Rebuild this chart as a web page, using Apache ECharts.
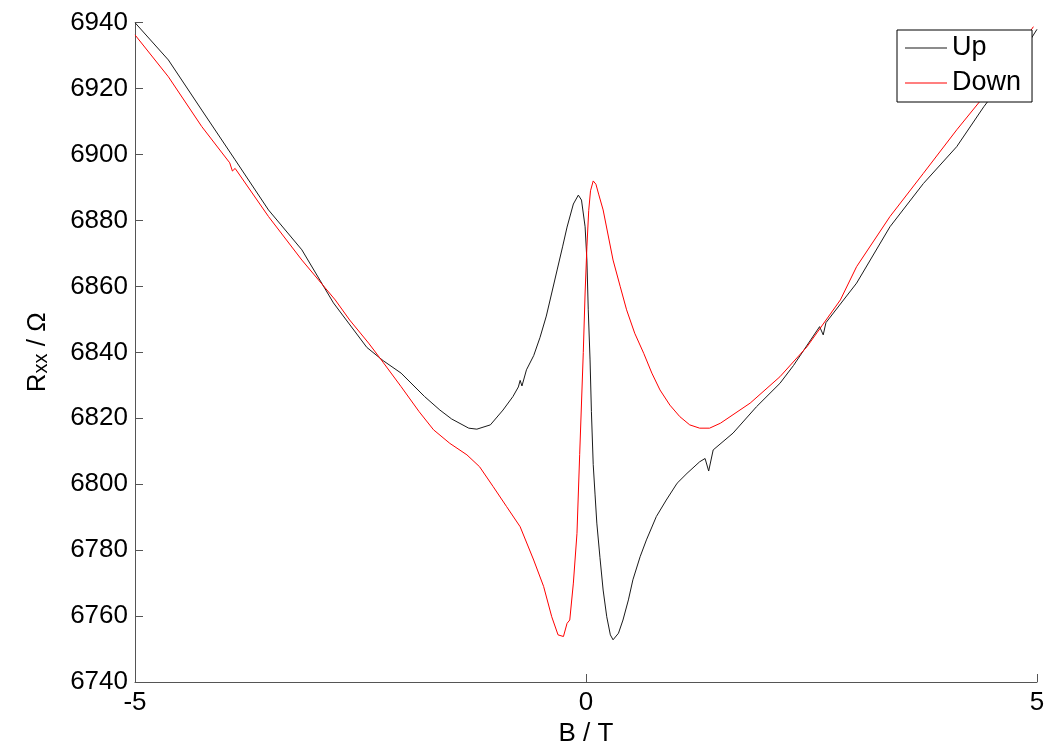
<!DOCTYPE html>
<html>
<head>
<meta charset="utf-8">
<script src="https://cdn.jsdelivr.net/npm/echarts@6/dist/echarts.min.js"></script>
<style>
html,body{margin:0;padding:0;background:#fff;}
#chart{width:1045px;height:745px;}
</style>
</head>
<body>
<div id="chart"></div>
<script>
// Up sweep (black)
const upB = [-5.00,-4.63,-4.26,-3.89,-3.52,-3.15,-2.80,-2.43,-2.25,-2.05,-1.79,-1.62,-1.49,-1.30,-1.21,-1.06,-0.92,-0.81,-0.75,-0.73,-0.71,-0.66,-0.58,-0.51,-0.44,-0.38,-0.32,-0.26,-0.21,-0.14,-0.085,-0.05,-0.01,0.01,0.025,0.045,0.06,0.08,0.10,0.12,0.155,0.19,0.23,0.27,0.30,0.36,0.41,0.47,0.52,0.60,0.67,0.78,0.89,1.01,1.12,1.26,1.32,1.36,1.41,1.63,1.89,2.15,2.30,2.59,2.63,2.66,3.00,3.37,3.74,4.11,4.41,4.70,5.00];
const upR = [6940,6928.7,6913.5,6898.4,6883.2,6871.1,6855,6841.5,6837.5,6833.7,6826.6,6822.5,6819.8,6817,6816.7,6818,6822.5,6826.6,6829.5,6831.5,6829.8,6834.7,6839,6844.5,6851,6858,6865,6872,6878,6885,6887.7,6886.2,6878.1,6868,6852.9,6837.7,6822,6806,6797,6788.2,6777.7,6767.9,6759.8,6754.3,6752.8,6754.8,6758.8,6764.9,6771,6778,6783.1,6790.2,6795.2,6800.3,6803.3,6806.8,6807.8,6804,6810.4,6815.5,6823.5,6830.6,6836,6847.8,6845.3,6849,6861,6878.1,6891.2,6902.4,6914.5,6925,6938];
// Down sweep (red)
const downB = [-5.00,-4.63,-4.26,-3.95,-3.92,-3.89,-3.52,-3.15,-2.78,-2.62,-2.41,-2.25,-2.05,-1.85,-1.69,-1.51,-1.32,-1.18,-1.03,-0.88,-0.73,-0.58,-0.47,-0.38,-0.31,-0.25,-0.21,-0.18,-0.14,-0.10,-0.07,-0.03,-0.01,0.01,0.03,0.05,0.08,0.11,0.14,0.19,0.30,0.38,0.45,0.54,0.64,0.73,0.82,0.93,1.04,1.15,1.26,1.37,1.49,1.82,2.15,2.45,2.82,3.00,3.37,3.74,4.11,4.41,4.70,4.96];
const downR = [6936.3,6923.6,6908.5,6897.5,6895,6895.8,6881.2,6868,6855.9,6849.8,6842.8,6837,6829.6,6822,6816.5,6812.4,6808.9,6805.3,6799.3,6793.2,6787.1,6777,6769,6759.8,6754.3,6753.8,6757.8,6758.8,6770,6785.1,6809,6840,6858,6872,6883,6889,6892,6891,6888,6883.2,6868,6859.9,6852.9,6845.8,6839.7,6833.7,6828.6,6824,6820.5,6818,6817,6817,6818.5,6824.6,6832.6,6841.7,6855.9,6866,6881.2,6894.3,6907.5,6917.6,6928,6938.8];

const seriesNames = ['Up','Down'];
const xTicks = [-5, 0, 5];

const pairs = (xs, ys) => xs.map((x, i) => [x, ys[i]]);
const FONT = '"Liberation Sans", Arial, sans-serif';

const chart = echarts.init(document.getElementById('chart'), null, {renderer: 'canvas'});
chart.setOption({
  animation: false,
  backgroundColor: '#fff',
  textStyle: {fontFamily: FONT},
  grid: {left: 135, right: 8, top: 22.7, bottom: 63, containLabel: false, outerBoundsMode: 'none'},
  legend: {
    orient: 'vertical',
    left: 897, top: 30,
    padding: [4, 11, 5, 8],
    icon: 'rect',
    itemWidth: 42, itemHeight: 1.2, itemGap: 7,
    backgroundColor: '#fff',
    borderColor: '#000', borderWidth: 1,
    textStyle: {fontFamily: FONT, fontSize: 27, color: '#000', lineHeight: 28},
    data: seriesNames
  },
  xAxis: {
    type: 'value', min: -5, max: 5, interval: 5,
    name: 'B / T', nameLocation: 'middle', nameGap: 35,
    nameTextStyle: {fontFamily: FONT, fontSize: 26, color: '#000'},
    axisLine: {show: true, onZero: false, lineStyle: {color: '#555', width: 1}},
    axisTick: {show: true, inside: true, length: 8, lineStyle: {color: '#555'}},
    axisLabel: {fontFamily: FONT, fontSize: 26, color: '#000', margin: 8,
      formatter: v => xTicks.includes(v) ? String(v) : ''},
    splitLine: {show: false}
  },
  yAxis: {
    type: 'value', min: 6740, max: 6940, interval: 20,
    name: '{a|R}{b|xx}{a| / Ω}', nameLocation: 'middle', nameGap: 84, nameRotate: 90,
    nameTextStyle: {
      fontFamily: FONT, color: '#000',
      rich: {
        a: {fontFamily: FONT, fontSize: 26, color: '#000', lineHeight: 26, verticalAlign: 'top'},
        b: {fontFamily: FONT, fontSize: 20, color: '#000', lineHeight: 20, padding: [20,0,0,0], verticalAlign: 'bottom'}
      }
    },
    axisLine: {show: true, onZero: false, lineStyle: {color: '#555', width: 1}},
    axisTick: {show: true, inside: true, length: 8, lineStyle: {color: '#555'}},
    axisLabel: {fontFamily: FONT, fontSize: 26, color: '#000', margin: 7, formatter: v => String(v)},
    splitLine: {show: false}
  },
  series: [
    {name: seriesNames[0], type: 'line', data: pairs(upB, upR), symbol: 'none',
     lineStyle: {color: '#1a1a1a', width: 1}, itemStyle: {color: '#1a1a1a'}},
    {name: seriesNames[1], type: 'line', data: pairs(downB, downR), symbol: 'none',
     lineStyle: {color: '#ff0000', width: 1}, itemStyle: {color: '#ff0000'}}
  ]
});
</script>
</body>
</html>
